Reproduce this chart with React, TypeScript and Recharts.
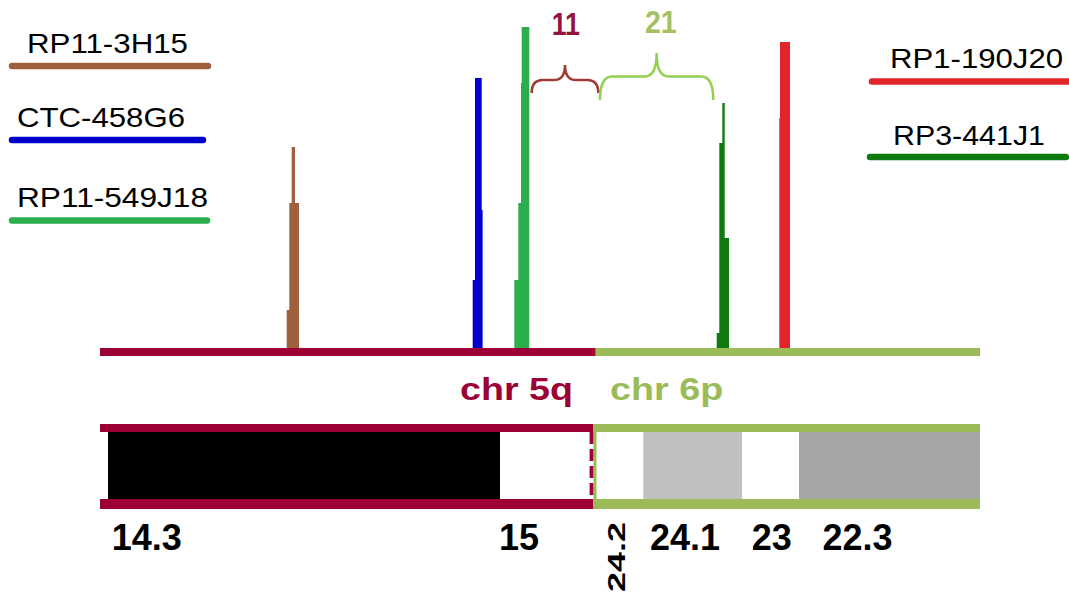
import {
  Area,
  ComposedChart,
  Legend,
  ReferenceArea,
  ReferenceLine,
  XAxis,
  YAxis,
} from 'recharts';

// probe clones and their signal profiles (position along the fusion, signal height)
const probes = ['RP11-3H15', 'CTC-458G6', 'RP11-549J18', 'RP1-190J20', 'RP3-441J1'];
const probeColors = ['#a0603e', '#0000cc', '#2bae4c', '#e2252b', '#0e7a10'];

const rp11_3h15 = [
  { pos: 186.7, signal: 42 },
  { pos: 189.3, signal: 149 },
  { pos: 191.7, signal: 205 },
  { pos: 195, signal: 149 },
  { pos: 199, signal: 0 },
];
const ctc_458g6 = [
  { pos: 372.7, signal: 72 },
  { pos: 375, signal: 274 },
  { pos: 381.7, signal: 142 },
  { pos: 382.6, signal: 0 },
];
const rp11_549j18 = [
  { pos: 414.3, signal: 72 },
  { pos: 418.3, signal: 149 },
  { pos: 421, signal: 269 },
  { pos: 421.7, signal: 325 },
  { pos: 429.3, signal: 0 },
];
const rp1_190j20 = [
  { pos: 679.3, signal: 234 },
  { pos: 680, signal: 310 },
  { pos: 690, signal: 0 },
];
const rp3_441j1 = [
  { pos: 616.7, signal: 19 },
  { pos: 619.3, signal: 209 },
  { pos: 622.3, signal: 249 },
  { pos: 624.7, signal: 114 },
  { pos: 629, signal: 0 },
];
const probeData = [rp11_3h15, ctc_458g6, rp11_549j18, rp1_190j20, rp3_441j1];

// chromosome segments
const chr5qEnd = 493.3;
const chr6pEnd = 880;

// ideogram bands
const bandStart = [8, 400, 496, 543.3, 642.3, 699];
const bandEnd = [400, 492, 543.3, 642.3, 699, 880];
const bandFill = ['#000000', '#ffffff', '#ffffff', '#c0c0c0', '#ffffff', '#a6a6a6'];

// band labels
const bandTickPos = [46.7, 419, 516.5, 585, 671.7, 757.5];
const bandTickLabels = ['14.3', '15', '24.2', '24.1', '23', '22.3'];

const CRIMSON = '#9c0036';
const LIGHT_GREEN = '#9bbb59';
const FONT = 'Arial, "Liberation Sans", sans-serif';

function BandTick(props: any) {
  const { x, y, index } = props;
  const label = bandTickLabels[index];
  if (label === '24.2') {
    return (
      <text
        transform={`translate(${x},${y + 48}) rotate(-90) scale(1,0.68)`}
        textAnchor="middle"
        dy="0.36em"
        fontFamily={FONT}
        fontWeight="bold"
        fontSize={36}
        fill="#000"
      >
        {label}
      </text>
    );
  }
  return (
    <text x={x} y={y + 41} textAnchor="middle" fontFamily={FONT} fontWeight="bold" fontSize={36} fill="#000">
      {label}
    </text>
  );
}

function textBox(text: string, color: string, size: number) {
  return (props: any) => (
    <text
      x={props.x}
      y={props.y + props.height}
      textLength={props.width}
      lengthAdjust="spacingAndGlyphs"
      fontFamily={FONT}
      fontWeight="bold"
      fontSize={size}
      fill={color}
    >
      {text}
    </text>
  );
}

function brace(color: string, mid: number) {
  return (props: any) => {
    const { x, y, width: w, height: h } = props;
    const ym = y + h * mid;
    const cx = x + w / 2;
    const r = Math.min(12, w / 6);
    const d = `M${x},${y + h} Q${x},${ym} ${x + r},${ym} L${cx - r},${ym} Q${cx},${ym} ${cx},${y} Q${cx},${ym} ${cx + r},${ym} L${x + w - r},${ym} Q${x + w},${ym} ${x + w},${y + h}`;
    return <path d={d} fill="none" stroke={color} strokeWidth={2.5} />;
  };
}

const legendSlots = [
  { tx: 27, tw: 161, ty: 53, x1: 12, x2: 208, ly: 66 },
  { tx: 17, tw: 168, ty: 127, x1: 12, x2: 203, ly: 140 },
  { tx: 17, tw: 191, ty: 207, x1: 12, x2: 207, ly: 220.5 },
  { tx: 890, tw: 173, ty: 68, x1: 872, x2: 1068, ly: 81.5 },
  { tx: 893, tw: 152, ty: 145, x1: 870, x2: 1066, ly: 157 },
];

function ProbeLegend(props: any) {
  const items = (props.payload ?? []).map((p: any) => p.value);
  const names = items.length ? items : probes;
  return (
    <svg width={1069} height={240} style={{ display: 'block' }}>
      {names.map((name: string) => {
        const i = probes.indexOf(name);
        const s = legendSlots[i];
        if (!s) return null;
        return (
          <g key={name}>
            <text
              x={s.tx}
              y={s.ty}
              textLength={s.tw}
              lengthAdjust="spacingAndGlyphs"
              fontFamily={FONT}
              fontSize={28}
              fill="#000"
            >
              {name}
            </text>
            <line x1={s.x1} x2={s.x2} y1={s.ly} y2={s.ly} stroke={probeColors[i]} strokeWidth={6.5} strokeLinecap="round" />
          </g>
        );
      })}
    </svg>
  );
}

export default function App() {
  return (
    <div style={{ position: 'absolute', left: 0, top: 0, background: '#fff' }}>
      <ComposedChart width={1069} height={595} margin={{ top: 5, right: 89, left: 100, bottom: 16 }}>
        <XAxis
          dataKey="pos"
          type="number"
          domain={[0, 880]}
          ticks={bandTickPos}
          tick={<BandTick />}
          axisLine={false}
          tickLine={false}
          tickSize={0}
          tickMargin={0}
          height={70}
          interval={0}
          allowDataOverflow
        />
        <YAxis type="number" domain={[-157, 347]} hide allowDataOverflow />
        <Legend
          content={<ProbeLegend />}
          layout="horizontal"
          verticalAlign="middle"
          align="center"
          wrapperStyle={{ position: 'absolute', left: 0, top: 0, width: 1069, height: 240 }}
        />

        {probes.map((name, i) => (
          <Area
            key={name}
            name={name}
            data={probeData[i]}
            dataKey="signal"
            type="stepAfter"
            baseValue={0}
            stroke={probeColors[i]}
            strokeWidth={0}
            fill={probeColors[i]}
            fillOpacity={1}
            dot={false}
            activeDot={false}
            isAnimationActive={false}
          />
        ))}

        {/* baseline */}
        <ReferenceLine segment={[{ x: 0, y: 0 }, { x: chr5qEnd + 2.4, y: 0 }]} stroke={CRIMSON} strokeWidth={8} />
        <ReferenceLine segment={[{ x: chr5qEnd + 2.4, y: 0 }, { x: chr6pEnd, y: 0 }]} stroke={LIGHT_GREEN} strokeWidth={8} />

        {/* chromosome names */}
        <ReferenceArea x1={360} x2={473} y1={-48} y2={-25} shape={textBox('chr 5q', CRIMSON, 32)} ifOverflow="visible" />
        <ReferenceArea x1={510} x2={623.3} y1={-48} y2={-25} shape={textBox('chr 6p', LIGHT_GREEN, 32)} ifOverflow="visible" />

        {/* band braces */}
        <ReferenceArea x1={451.7} x2={480} y1={317} y2={340} shape={textBox('11', '#93153f', 32)} ifOverflow="visible" />
        <ReferenceArea x1={545} x2={576.7} y1={319} y2={342} shape={textBox('21', '#a3c162', 32)} ifOverflow="visible" />
        <ReferenceArea x1={431.7} x2={498.3} y1={259} y2={287} shape={brace('#a03a36', 0.54)} ifOverflow="visible" />
        <ReferenceArea x1={500} x2={613.3} y1={252} y2={299} shape={brace('#92d050', 0.5)} ifOverflow="visible" />

        {/* ideogram bands */}
        {bandStart.map((s, i) => (
          <ReferenceArea
            key={`band-${i}`}
            x1={s}
            x2={bandEnd[i]}
            y1={-147}
            y2={-80}
            fill={bandFill[i]}
            fillOpacity={1}
            stroke="none"
          />
        ))}
        <ReferenceArea x1={0} x2={chr5qEnd} y1={-80} y2={-72} fill={CRIMSON} fillOpacity={1} />
        <ReferenceArea x1={0} x2={chr5qEnd} y1={-157} y2={-147} fill={CRIMSON} fillOpacity={1} />
        <ReferenceArea x1={chr5qEnd} x2={chr6pEnd} y1={-80} y2={-72} fill={LIGHT_GREEN} fillOpacity={1} />
        <ReferenceArea x1={chr5qEnd} x2={chr6pEnd} y1={-157} y2={-147} fill={LIGHT_GREEN} fillOpacity={1} />
        <ReferenceLine segment={[{ x: 491.6, y: -80 }, { x: 491.6, y: -147 }]} stroke={CRIMSON} strokeWidth={4} strokeDasharray="12 5" />
        <ReferenceLine segment={[{ x: 495, y: -72 }, { x: 495, y: -157 }]} stroke={LIGHT_GREEN} strokeWidth={3} />
      </ComposedChart>
    </div>
  );
}
